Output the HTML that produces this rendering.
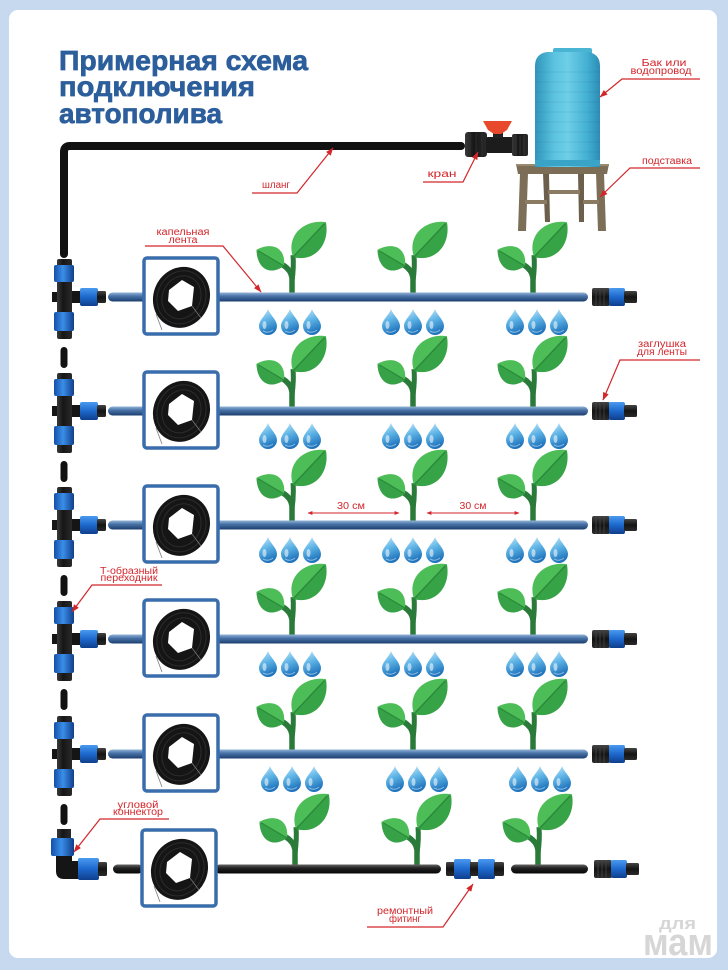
<!DOCTYPE html>
<html><head><meta charset="utf-8"><style>
html,body{margin:0;padding:0;background:#c6d9ef;}
svg{display:block}
.l{font-family:"Liberation Sans","DejaVu Sans",sans-serif;font-size:10px;fill:#d3262b;}
.t{font-family:"Liberation Sans","DejaVu Sans",sans-serif;font-size:28px;font-weight:bold;fill:#2c5e9c;stroke:#2c5e9c;stroke-width:0.7px;}
.w{font-family:"Liberation Sans","DejaVu Sans",sans-serif;font-weight:bold;fill:#d6d6d6;}
</style></head><body>
<svg width="728" height="970" viewBox="0 0 728 970" xmlns="http://www.w3.org/2000/svg" xmlns:xlink="http://www.w3.org/1999/xlink">
<defs>
 <linearGradient id="pipe" x1="0" y1="0" x2="0" y2="1">
  <stop offset="0" stop-color="#93b3d8"/><stop offset="0.4" stop-color="#4a74a8"/><stop offset="1" stop-color="#1c3d6e"/>
 </linearGradient>
 <linearGradient id="bpipe" x1="0" y1="0" x2="0" y2="1">
  <stop offset="0" stop-color="#666"/><stop offset="0.4" stop-color="#222"/><stop offset="1" stop-color="#050505"/>
 </linearGradient>
 <linearGradient id="blue" x1="0" y1="0" x2="0" y2="1">
  <stop offset="0" stop-color="#4a9af0"/><stop offset="0.5" stop-color="#1d68cc"/><stop offset="1" stop-color="#0f3f8c"/>
 </linearGradient>
 <linearGradient id="blueH" x1="0" y1="0" x2="1" y2="0">
  <stop offset="0" stop-color="#1450a8"/><stop offset="0.45" stop-color="#3a8ee8"/><stop offset="1" stop-color="#0f3f8c"/>
 </linearGradient>
 <linearGradient id="blkH" x1="0" y1="0" x2="1" y2="0">
  <stop offset="0" stop-color="#3a3a3a"/><stop offset="0.4" stop-color="#161616"/><stop offset="1" stop-color="#2a2a2a"/>
 </linearGradient>
 <linearGradient id="blkV" x1="0" y1="0" x2="0" y2="1">
  <stop offset="0" stop-color="#444"/><stop offset="0.5" stop-color="#141414"/><stop offset="1" stop-color="#2a2a2a"/>
 </linearGradient>
 <linearGradient id="dropG" x1="0" y1="0" x2="0.3" y2="1">
  <stop offset="0" stop-color="#c8ebfb"/><stop offset="0.5" stop-color="#5fb4e6"/><stop offset="1" stop-color="#1f74bd"/>
 </linearGradient>
 <linearGradient id="tank" x1="0" y1="0" x2="1" y2="0">
  <stop offset="0" stop-color="#2f95bb"/><stop offset="0.3" stop-color="#5cc3e0"/><stop offset="0.5" stop-color="#6ecfe8"/><stop offset="0.8" stop-color="#44b0d3"/><stop offset="1" stop-color="#2c8db4"/>
 </linearGradient>
 <marker id="ah" viewBox="0 0 8 6" refX="7.5" refY="3" markerWidth="8" markerHeight="6" markerUnits="userSpaceOnUse" orient="auto-start-reverse">
  <path d="M0,0 L8,3 L0,6 Z" fill="#d3262b"/>
 </marker>
 <marker id="ah2" viewBox="0 0 6 5" refX="5.5" refY="2.5" markerWidth="5" markerHeight="4" markerUnits="userSpaceOnUse" orient="auto-start-reverse">
  <path d="M0,0 L6,2.5 L0,5 Z" fill="#d3262b"/>
 </marker>

 <g id="plant">
  <path d="M0,0 L0,-15 Q-1,-23 -9,-28" stroke="#2a7a3a" stroke-width="5.5" fill="none"/>
  <path d="M0,-12 Q2,-26 1,-38" stroke="#2a7a3a" stroke-width="5" fill="none"/>
  <g transform="translate(-8,-27) rotate(210.6)">
   <path d="M0,0 C7,-16 22,-16 32,0 Z" fill="#36a146"/>
   <path d="M0,0 C7,16 22,16 32,0 Z" fill="#4dbd57"/>
   <path d="M0,0 L30,0" stroke="#2a8a3a" stroke-width="1.2"/>
  </g>
  <g transform="translate(1,-36) rotate(-46.7)">
   <path d="M0,0 C10,-19 34,-19 48,0 Z" fill="#4dbd57"/>
   <path d="M0,0 C10,19 34,19 48,0 Z" fill="#37a347"/>
   <path d="M0,0 L46,0" stroke="#2a8a3a" stroke-width="1.4"/>
  </g>
 </g>

 <g id="drop">
  <path d="M0,-17 C2,-11 9,-6 9,0 A9,9 0 0 1 -9,0 C-9,-6 -2,-11 0,-17Z" fill="url(#dropG)"/>
  <ellipse cx="-3.5" cy="-1" rx="2" ry="4" fill="#ffffff" opacity="0.55"/>
  <path d="M-5,5 Q0,8 5,4" stroke="#ffffff" stroke-width="1" fill="none" opacity="0.5"/>
 </g>

 <g id="tee">
  <rect x="52" y="-5" width="6" height="10" fill="#161616"/>
  <rect x="57" y="-38" width="15" height="80" rx="2" fill="url(#blkH)"/>
  <rect x="54" y="-32" width="20" height="17" rx="2" fill="url(#blueH)"/>
  <rect x="54" y="15" width="20" height="19" rx="2" fill="url(#blueH)"/>
  <rect x="72" y="-6" width="9" height="12" fill="#151515"/>
  <rect x="80" y="-9" width="18" height="18" rx="2" fill="url(#blue)"/>
  <rect x="97" y="-6" width="9" height="12" rx="1.5" fill="url(#blkV)"/>
 </g>

 <g id="plug">
  <rect x="592" y="-9" width="18" height="18" rx="2" fill="url(#blkV)"/>
  <path d="M596,-9 V9 M600,-9 V9 M604,-9 V9" stroke="#444" stroke-width="0.8"/>
  <rect x="609" y="-9" width="16" height="18" rx="2" fill="url(#blue)"/>
  <rect x="624" y="-6" width="13" height="12" rx="1.5" fill="url(#blkV)"/>
 </g>

 <g id="coil">
  <rect x="-37" y="-38" width="74" height="76" rx="3" fill="#ffffff" stroke="#3a6dab" stroke-width="3.5"/>
  <ellipse cx="1" cy="1" rx="28" ry="31" transform="rotate(25)" fill="#151515"/>
  <ellipse cx="1" cy="1" rx="24" ry="27" transform="rotate(25)" fill="none" stroke="#2c2c2c" stroke-width="1"/>
  <ellipse cx="1" cy="1" rx="19" ry="22" transform="rotate(25)" fill="none" stroke="#2c2c2c" stroke-width="1"/>
  <polygon points="-12,-6 1,-16 13,-9 11,10 -3,15 -13,5" fill="#ffffff"/>
  <path d="M-25,18 L-19,34" stroke="#888" stroke-width="0.9" fill="none"/>
  <path d="M11,10 L20,22" stroke="#777" stroke-width="0.8" fill="none"/>
 </g>
</defs>

<!-- panel -->
<rect x="9" y="10" width="708" height="948" rx="9" fill="#ffffff"/>

<!-- title -->
<text class="t" x="59" y="70" textLength="249" lengthAdjust="spacingAndGlyphs">Примерная схема</text>
<text class="t" x="59" y="96" textLength="196" lengthAdjust="spacingAndGlyphs">подключения</text>
<text class="t" x="59" y="123" textLength="163" lengthAdjust="spacingAndGlyphs">автополива</text>

<!-- main hose -->
<path d="M64,254 L64,152 Q64,146 70,146 L461,146" stroke="#111" stroke-width="8" fill="none" stroke-linecap="round"/>

<!-- valve -->
<rect x="465" y="132" width="22" height="25" rx="3" fill="url(#blkH)"/>
<path d="M470,133 V156 M476,133 V156 M482,133 V156" stroke="#333" stroke-width="0.8"/>
<rect x="486" y="137" width="28" height="16" rx="2" fill="#1c1c1c"/>
<rect x="493" y="131" width="10" height="7" fill="#222"/>
<path d="M483,121 L512,121 L507,130 L501,134 L494,134 L488,130 Z" fill="#e8482b"/>
<rect x="512" y="134" width="16" height="22" rx="2" fill="url(#blkH)"/>
<path d="M516,135 V155 M520,135 V155 M524,135 V155" stroke="#3a3a3a" stroke-width="0.8"/>

<!-- stand -->
<polygon points="520,173 528,173 526,231 518,231" fill="#7d6e57"/>
<polygon points="543,173 549,173 550,222 545,222" fill="#6c604d"/>
<polygon points="578,173 584,173 584,222 579,222" fill="#6c604d"/>
<polygon points="596,173 604,173 606,231 598,231" fill="#7d6e57"/>
<rect x="548" y="190" width="32" height="4" fill="#8a7b62"/>
<rect x="525" y="200" width="22" height="4" fill="#8a7b62"/>
<rect x="583" y="200" width="16" height="4" fill="#8a7b62"/>
<polygon points="516,164 609,164 607,174 518,174" fill="#7c6d56"/>
<rect x="516" y="164" width="93" height="2" fill="#9a8b70"/>

<!-- tank -->
<rect x="553" y="48" width="39" height="8" rx="2" fill="#4ab4d4"/>
<path d="M535,167 L535,66 Q535,54 547,52 L588,52 Q600,54 600,66 L600,167 Z" fill="url(#tank)"/>
<g stroke="#000" stroke-opacity="0.06" stroke-width="1">
 <path d="M535,72 H600 M535,82 H600 M535,92 H600 M535,102 H600 M535,112 H600 M535,122 H600 M535,132 H600 M535,142 H600 M535,152 H600"/>
</g>
<rect x="535" y="160" width="65" height="6" fill="#3aa3c8"/>

<!-- top labels -->
<text class="l" x="276" y="188" text-anchor="middle" textLength="28" lengthAdjust="spacingAndGlyphs">шланг</text>
<polyline points="252,193 297,193 333,148" fill="none" stroke="#d3262b" stroke-width="1.2" marker-end="url(#ah)"/>
<text class="l" x="442" y="177" text-anchor="middle" textLength="29" lengthAdjust="spacingAndGlyphs">кран</text>
<polyline points="423,182 463,182 478,152" fill="none" stroke="#d3262b" stroke-width="1.2" marker-end="url(#ah)"/>
<text class="l" x="664" y="66" text-anchor="middle" textLength="45" lengthAdjust="spacingAndGlyphs">Бак или</text>
<text class="l" x="661" y="74" text-anchor="middle" textLength="61" lengthAdjust="spacingAndGlyphs">водопровод</text>
<polyline points="700,79 622,79 600,97" fill="none" stroke="#d3262b" stroke-width="1.2" marker-end="url(#ah)"/>
<text class="l" x="667" y="164" text-anchor="middle" textLength="50" lengthAdjust="spacingAndGlyphs">подставка</text>
<polyline points="700,168 630,168 600,197" fill="none" stroke="#d3262b" stroke-width="1.2" marker-end="url(#ah)"/>

<!-- vertical hose segments -->
<rect x="60.5" y="347" width="7" height="21" rx="3.5" fill="#121212"/>
<rect x="60.5" y="461" width="7" height="21" rx="3.5" fill="#121212"/>
<rect x="60.5" y="575" width="7" height="21" rx="3.5" fill="#121212"/>
<rect x="60.5" y="689" width="7" height="21" rx="3.5" fill="#121212"/>
<rect x="60.5" y="804" width="7" height="21" rx="3.5" fill="#121212"/>

<!-- ROW 1 -->
<use xlink:href="#plant" href="#plant" x="292" y="293"/>
<use xlink:href="#plant" href="#plant" x="413" y="293"/>
<use xlink:href="#plant" href="#plant" x="533" y="293"/>
<use xlink:href="#tee" href="#tee" x="0" y="297"/>
<rect x="108" y="292.5" width="480" height="9" rx="4.5" fill="url(#pipe)"/>
<use xlink:href="#coil" href="#coil" x="181" y="296"/>
<use xlink:href="#plug" href="#plug" x="0" y="297"/>
<g transform="translate(0,326)">
 <use href="#drop" x="268"/><use href="#drop" x="290"/><use href="#drop" x="312"/>
 <use href="#drop" x="391"/><use href="#drop" x="413"/><use href="#drop" x="435"/>
 <use href="#drop" x="515"/><use href="#drop" x="537"/><use href="#drop" x="559"/>
</g>

<!-- ROW 2 -->
<use href="#plant" x="292" y="407"/>
<use href="#plant" x="413" y="407"/>
<use href="#plant" x="533" y="407"/>
<use href="#tee" x="0" y="411"/>
<rect x="108" y="406.5" width="480" height="9" rx="4.5" fill="url(#pipe)"/>
<use href="#coil" x="181" y="410"/>
<use href="#plug" x="0" y="411"/>
<g transform="translate(0,440)">
 <use href="#drop" x="268"/><use href="#drop" x="290"/><use href="#drop" x="312"/>
 <use href="#drop" x="391"/><use href="#drop" x="413"/><use href="#drop" x="435"/>
 <use href="#drop" x="515"/><use href="#drop" x="537"/><use href="#drop" x="559"/>
</g>

<!-- ROW 3 -->
<use href="#plant" x="292" y="521"/>
<use href="#plant" x="413" y="521"/>
<use href="#plant" x="533" y="521"/>
<use href="#tee" x="0" y="525"/>
<rect x="108" y="520.5" width="480" height="9" rx="4.5" fill="url(#pipe)"/>
<use href="#coil" x="181" y="524"/>
<use href="#plug" x="0" y="525"/>
<g transform="translate(0,554)">
 <use href="#drop" x="268"/><use href="#drop" x="290"/><use href="#drop" x="312"/>
 <use href="#drop" x="391"/><use href="#drop" x="413"/><use href="#drop" x="435"/>
 <use href="#drop" x="515"/><use href="#drop" x="537"/><use href="#drop" x="559"/>
</g>
<line x1="308" y1="513" x2="399" y2="513" stroke="#d3262b" stroke-width="1" marker-start="url(#ah2)" marker-end="url(#ah2)"/>
<text class="l" x="351" y="509" text-anchor="middle" textLength="28" lengthAdjust="spacingAndGlyphs">30 см</text>
<line x1="427" y1="513" x2="519" y2="513" stroke="#d3262b" stroke-width="1" marker-start="url(#ah2)" marker-end="url(#ah2)"/>
<text class="l" x="473" y="509" text-anchor="middle" textLength="27" lengthAdjust="spacingAndGlyphs">30 см</text>

<!-- ROW 4 -->
<use href="#plant" x="292" y="635"/>
<use href="#plant" x="413" y="635"/>
<use href="#plant" x="533" y="635"/>
<use href="#tee" x="0" y="639"/>
<rect x="108" y="634.5" width="480" height="9" rx="4.5" fill="url(#pipe)"/>
<use href="#coil" x="181" y="638"/>
<use href="#plug" x="0" y="639"/>
<g transform="translate(0,668)">
 <use href="#drop" x="268"/><use href="#drop" x="290"/><use href="#drop" x="312"/>
 <use href="#drop" x="391"/><use href="#drop" x="413"/><use href="#drop" x="435"/>
 <use href="#drop" x="515"/><use href="#drop" x="537"/><use href="#drop" x="559"/>
</g>

<!-- ROW 5 -->
<use href="#plant" x="292" y="750"/>
<use href="#plant" x="413" y="750"/>
<use href="#plant" x="533" y="750"/>
<use href="#tee" x="0" y="754"/>
<rect x="108" y="749.5" width="480" height="9" rx="4.5" fill="url(#pipe)"/>
<use href="#coil" x="181" y="753"/>
<use href="#plug" x="0" y="754"/>
<g transform="translate(0,783)">
 <use href="#drop" x="270"/><use href="#drop" x="292"/><use href="#drop" x="314"/>
 <use href="#drop" x="395"/><use href="#drop" x="417"/><use href="#drop" x="439"/>
 <use href="#drop" x="518"/><use href="#drop" x="540"/><use href="#drop" x="562"/>
</g>

<!-- ROW 6 (bottom) -->
<use href="#plant" x="295" y="865"/>
<use href="#plant" x="417" y="865"/>
<use href="#plant" x="538" y="865"/>
<g transform="translate(0,869)">
 <rect x="57" y="-40" width="14" height="12" fill="url(#blkH)"/>
 <rect x="51" y="-31" width="23" height="18" rx="2" fill="url(#blueH)"/>
 <path d="M56,-13 L72,-13 L72,-8 L80,-8 L80,10 L64,10 Q56,10 56,2 Z" fill="#151515"/>
 <rect x="78" y="-11" width="21" height="22" rx="2" fill="url(#blue)"/>
 <rect x="98" y="-7" width="9" height="14" rx="1.5" fill="url(#blkV)"/>
 <rect x="113" y="-4.5" width="30" height="9" rx="4.5" fill="url(#bpipe)"/>
 <rect x="215" y="-4.5" width="226" height="9" rx="4.5" fill="url(#bpipe)"/>
 <rect x="511" y="-4.5" width="77" height="9" rx="4.5" fill="url(#bpipe)"/>
 <rect x="446" y="-7" width="9" height="14" rx="1.5" fill="url(#blkV)"/>
 <rect x="454" y="-10" width="17" height="20" rx="2" fill="url(#blue)"/>
 <rect x="470" y="-7" width="9" height="14" fill="url(#blkV)"/>
 <rect x="478" y="-10" width="17" height="20" rx="2" fill="url(#blue)"/>
 <rect x="494" y="-7" width="10" height="14" rx="1.5" fill="url(#blkV)"/>
</g>
<use href="#coil" x="179" y="868"/>
<g transform="translate(2,869)"><use href="#plug"/></g>

<!-- side labels -->
<text class="l" x="183" y="235" text-anchor="middle" textLength="53" lengthAdjust="spacingAndGlyphs">капельная</text>
<text class="l" x="183" y="243" text-anchor="middle" textLength="29" lengthAdjust="spacingAndGlyphs">лента</text>
<polyline points="145,246 223,246 261,292" fill="none" stroke="#d3262b" stroke-width="1.2" marker-end="url(#ah)"/>

<text class="l" x="662" y="347" text-anchor="middle" textLength="48" lengthAdjust="spacingAndGlyphs">заглушка</text>
<text class="l" x="662" y="355" text-anchor="middle" textLength="50" lengthAdjust="spacingAndGlyphs">для ленты</text>
<polyline points="700,360 620,360 603,400" fill="none" stroke="#d3262b" stroke-width="1.2" marker-end="url(#ah)"/>

<text class="l" x="129" y="574" text-anchor="middle" textLength="58" lengthAdjust="spacingAndGlyphs">Т-образный</text>
<text class="l" x="129" y="581" text-anchor="middle" textLength="57" lengthAdjust="spacingAndGlyphs">переходник</text>
<polyline points="162,585 92,585 72,612" fill="none" stroke="#d3262b" stroke-width="1.2" marker-end="url(#ah)"/>

<text class="l" x="138" y="808" text-anchor="middle" textLength="41" lengthAdjust="spacingAndGlyphs">угловой</text>
<text class="l" x="138" y="815" text-anchor="middle" textLength="50" lengthAdjust="spacingAndGlyphs">коннектор</text>
<polyline points="169,819 100,819 74,852" fill="none" stroke="#d3262b" stroke-width="1.2" marker-end="url(#ah)"/>

<text class="l" x="405" y="914" text-anchor="middle" textLength="56" lengthAdjust="spacingAndGlyphs">ремонтный</text>
<text class="l" x="405" y="922" text-anchor="middle" textLength="32" lengthAdjust="spacingAndGlyphs">фитинг</text>
<polyline points="367,927 443,927 473,884" fill="none" stroke="#d3262b" stroke-width="1.2" marker-end="url(#ah)"/>

<!-- watermark -->
<text class="w" x="659" y="929" font-size="17" textLength="37" lengthAdjust="spacingAndGlyphs">для</text>
<text class="w" x="643" y="955" font-size="38" textLength="70" lengthAdjust="spacingAndGlyphs">мам</text>
</svg>
</body></html>
